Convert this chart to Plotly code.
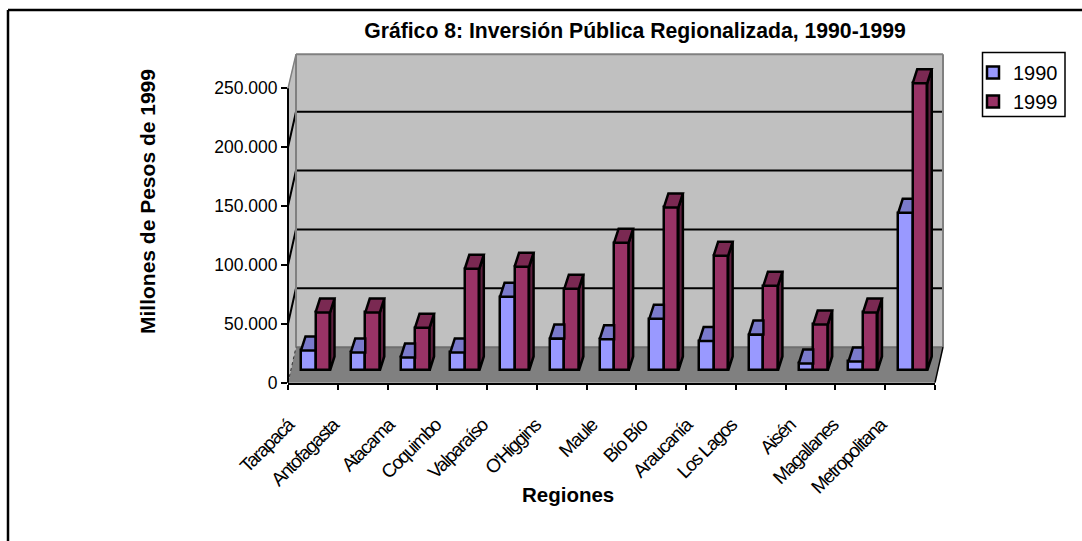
import plotly.graph_objects as go

regiones = ['Tarapacá', 'Antofagasta', 'Atacama', 'Coquimbo', 'Valparaíso', "O'Higgins", 'Maule',
            'Bío Bío', 'Araucanía', 'Los Lagos', 'Aisén', 'Magallanes', 'Metropolitana']
inv_1990 = [17000, 15300, 11000, 15300, 62700, 27100, 26500, 44000, 25000, 30500, 5900, 7600, 133900]
inv_1999 = [49200, 49200, 36400, 86400, 88100, 69500, 108500, 138500, 97500, 72000, 39000, 49200, 244000]
y_ticks = [0, 50000, 100000, 150000, 200000, 250000]
# where each rotated label ends, in axis units (excel does not put them on the ticks)
label_pos = [0.0, 0.9, 2.02, 2.96, 3.9, 4.96, 6.1, 7.1, 8.0, 8.9, 10.08, 10.94, 11.9]

W, H = 1082, 541
LEFT, RIGHT, TOP, BOTTOM = 288, 935, 88.3, 382.7   # front axes, pixels
DEPTH_X, DEPTH_Y = 8, 35.5                          # floor depth, pixels
PX_X = (RIGHT - LEFT) / 13
PX_Y = (BOTTOM - TOP) / 250000
Y_MAX = 285000

FLOOR = 12.2 / PX_Y          # bars stand in the middle of the floor
BAR_W = 14.5 / PX_X
CENTER = 27.5 / PX_X
TOP_DX = 4.5 / PX_X
TOP_DY = 14 / PX_Y

COL_BLUE, COL_BLUE_TOP = '#9999FF', '#7A7ACC'
COL_RED, COL_RED_TOP, COL_RED_SIDE = '#993366', '#7A2952', '#5C1F3D'
FONT = 'Liberation Sans, Arial, sans-serif'
EDGE = 2.5


def px(x):
    return x / W


def py(y):
    return 1 - y / H


def poly(points, fill, line='rgba(0,0,0,0)', width=0):
    path = 'M' + 'L'.join(f'{px(a):.5f},{py(b):.5f}' for a, b in points) + 'Z'
    return dict(type='path', path=path, xref='paper', yref='paper', fillcolor=fill,
                line=dict(color=line, width=width), layer='below')


def seg(x0, y0, x1, y1, color='black', width=2, dash='solid', layer='below'):
    return dict(type='line', xref='paper', yref='paper', x0=px(x0), y0=py(y0), x1=px(x1), y1=py(y1),
                line=dict(color=color, width=width, dash=dash), layer=layer)


def faces(xs, values, clip_right, fill, name):
    # top parallelogram of every bar, as one filled trace broken by None
    fx, fy = [], []
    for x, v in zip(xs, values):
        t = FLOOR + v
        right_back = x + BAR_W if clip_right else x + BAR_W + TOP_DX
        fx += [x, x + BAR_W, right_back, x + TOP_DX, x, None]
        fy += [t, t, t + TOP_DY, t + TOP_DY, t, None]
    return go.Scatter(x=fx, y=fy, mode='lines', fill='toself', fillcolor=fill, cliponaxis=False,
                      line=dict(color='black', width=EDGE), showlegend=False, hoverinfo='skip', name=name)


def sides(xs, values, fill, name):
    fx, fy = [], []
    for x, v in zip(xs, values):
        r = x + BAR_W
        fx += [r, r + TOP_DX, r + TOP_DX, r, r, None]
        fy += [FLOOR, FLOOR + TOP_DY, FLOOR + v + TOP_DY, FLOOR + v, FLOOR, None]
    return go.Scatter(x=fx, y=fy, mode='lines', fill='toself', fillcolor=fill, cliponaxis=False,
                      line=dict(color='black', width=EDGE), showlegend=False, hoverinfo='skip', name=name)


x_blue = [i + CENTER - BAR_W for i in range(13)]
x_red = [i + CENTER for i in range(13)]

fig = go.Figure()
fig.add_trace(go.Bar(x=[x + BAR_W / 2 for x in x_blue], y=inv_1990, base=FLOOR, width=BAR_W, name='1990',
                     marker=dict(color=COL_BLUE, line=dict(color='black', width=EDGE)), cliponaxis=False))
fig.add_trace(go.Bar(x=[x + BAR_W / 2 for x in x_red], y=inv_1999, base=FLOOR, width=BAR_W, name='1999',
                     marker=dict(color=COL_RED, line=dict(color='black', width=EDGE)), cliponaxis=False))
fig.add_trace(faces(x_blue, inv_1990, True, COL_BLUE_TOP, '1990 top'))
fig.add_trace(sides(x_red, inv_1999, COL_RED_SIDE, '1999 side'))
fig.add_trace(faces(x_red, inv_1999, False, COL_RED_TOP, '1999 top'))

bx0, bx1 = LEFT + DEPTH_X, RIGHT + DEPTH_X
by0 = BOTTOM - DEPTH_Y
by1 = TOP - DEPTH_Y + 1.5

shapes = [
    seg(8, 10, W, 10, width=2.5, layer='above'),
    seg(8, 10, 8, H, width=2.5, layer='above'),
    poly([(LEFT, BOTTOM), (LEFT, TOP), (bx0, by1), (bx0, by0)], '#C0C0C0'),
    poly([(bx0, by1), (bx1, by1), (bx1, by0), (bx0, by0)], '#C0C0C0'),
    poly([(LEFT, BOTTOM), (RIGHT, BOTTOM), (bx1, by0), (bx0, by0)], '#808080'),
]
for v in y_ticks[1:]:
    gy = BOTTOM - v * PX_Y
    if v < y_ticks[-1]:
        shapes.append(seg(LEFT, gy, bx0, gy - DEPTH_Y, width=2))
        shapes.append(seg(bx0, gy - DEPTH_Y, bx1, gy - DEPTH_Y, width=2))
shapes += [
    seg(bx0, by1, bx1, by1, color='#808080', width=2),
    seg(bx0, by1, bx0, by0, color='#808080', width=2),
    seg(bx1, by1, bx1, by0, color='#808080', width=2),
    seg(bx0, by0, bx1, by0, color='#6E6E6E', width=2),
    seg(LEFT, TOP, bx0, by1, color='#808080', width=1.5),
    seg(LEFT, BOTTOM, bx0, by0, color='#333333', width=1, dash='dot'),
    seg(RIGHT, BOTTOM, bx1, by0, color='black', width=1.5),
    seg(LEFT, BOTTOM, LEFT, TOP, width=2, layer='above'),   # y axis stops at 250.000
    # legend box
    dict(type='rect', xref='paper', yref='paper', x0=px(982.5), x1=px(1065), y0=py(52.5), y1=py(116.5),
         line=dict(color='black', width=1.5), fillcolor='white', layer='below'),
]

fig.update_layout(
    width=W, height=H, autosize=False,
    margin=dict(l=0, r=0, t=0, b=0),
    paper_bgcolor='white', plot_bgcolor='rgba(0,0,0,0)',
    barmode='overlay', bargap=0,
    separators=',.',
    font=dict(family=FONT, color='black'),
    title=dict(text='<b>Gráfico 8: Inversión Pública Regionalizada, 1990-1999</b>', x=635 / W, xanchor='center',
               y=py(31), yanchor='middle', font=dict(size=21.2, family=FONT, color='black')),
    shapes=shapes,
    xaxis=dict(domain=[px(LEFT), px(RIGHT)], range=[0, 13], tickmode='array', tickvals=label_pos, ticktext=regiones,
               tickangle=-45, ticks='', ticklabelstandoff=22, tickfont=dict(size=19, family=FONT, color='black'),
               showgrid=False, zeroline=False, showline=True, linecolor='black', linewidth=2,
               minor=dict(tickmode='array', tickvals=list(range(14)), ticks='outside', ticklen=5, tickwidth=2,
                          tickcolor='black', showgrid=False),
               automargin=False),
    yaxis=dict(domain=[py(BOTTOM), py(BOTTOM - Y_MAX * PX_Y)], range=[0, Y_MAX], tickmode='array', tickvals=y_ticks,
               tickformat=',d', ticks='outside', ticklen=6, tickwidth=2, tickcolor='black',
               tickfont=dict(size=17.5, family=FONT, color='black'),
               showgrid=False, zeroline=False, showline=False, automargin=False),
    legend=dict(x=px(973), y=py(53), xanchor='left', yanchor='top', bgcolor='rgba(0,0,0,0)', borderwidth=0,
                font=dict(size=20, family=FONT, color='black'), traceorder='normal', itemwidth=30),
    annotations=[
        dict(text='<b>Millones de Pesos de 1999</b>', xref='paper', yref='paper', x=px(147), y=py(202), textangle=-90,
             showarrow=False, xanchor='center', yanchor='middle', font=dict(size=21, family=FONT, color='black')),
        dict(text='<b>Regiones</b>', xref='paper', yref='paper', x=px(568), y=py(494),
             showarrow=False, xanchor='center', yanchor='middle', font=dict(size=20.5, family=FONT, color='black')),
    ],
)

# the category labels are squeezed together in the original
post = """
document.body.style.margin = '0';
var gd = document.getElementById('{plot_id}');
function squeeze() {
    gd.querySelectorAll('.xtick text').forEach(function (t) { t.style.letterSpacing = '-1.45px'; });
}
gd.on('plotly_afterplot', squeeze);
squeeze();
"""
fig.write_html("out.html", config={'displayModeBar': False}, post_script=post)
